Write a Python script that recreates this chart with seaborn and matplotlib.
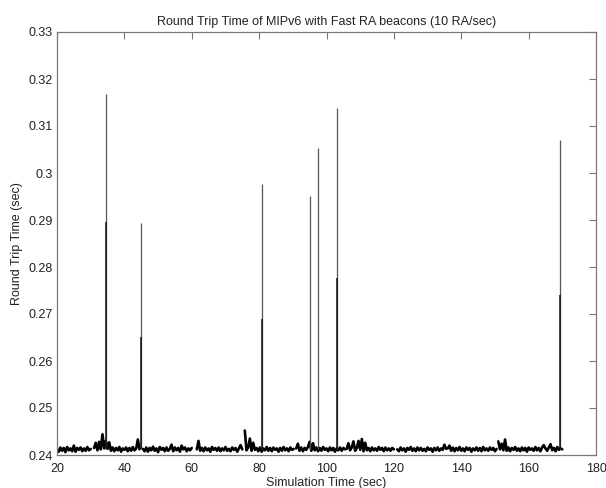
import numpy as np
import pandas as pd
import matplotlib
matplotlib.use("Agg")
import matplotlib.pyplot as plt
import seaborn as sns
from matplotlib.ticker import FuncFormatter

# ---------------- data (RTT in milliseconds, sampled every 0.5 s) ----------------
seg_starts = [20.0, 31.0, 45.5, 61.5, 75.75, 91.0, 106.0, 121.0, 136.0, 151.0]
sample_step = 0.5

seg1 = [241.2, 240.7, 241.6, 240.9, 241.5, 240.6, 241.7, 241.0, 241.4, 240.8, 242.0,
        240.7, 241.5, 241.1, 241.6, 240.8, 241.4, 240.9, 241.7, 241.0, 241.3]
seg2 = [241.5, 242.6, 241.0, 242.8, 241.2, 244.4, 241.4, 243.0, 241.3, 242.7, 240.9,
        241.6, 240.8, 241.5, 241.0, 241.7, 240.7, 241.4, 241.1, 241.6, 240.8, 241.5,
        240.9, 241.7, 241.0, 241.4, 243.3, 241.2]
seg3 = [241.3, 240.8, 241.6, 240.7, 241.5, 241.0, 241.8, 240.9, 241.4, 240.6, 241.7,
        241.1, 241.5, 240.8, 241.6, 240.9, 241.3, 242.2, 240.8, 241.6, 241.0, 241.5,
        240.7, 242.0, 241.2, 241.6, 240.8, 241.4, 241.0, 241.5]
seg4 = [241.2, 243.0, 240.9, 241.5, 240.8, 241.6, 241.0, 241.4, 240.7, 241.7, 241.1,
        241.5, 240.9, 241.6, 240.8, 241.4, 241.0, 241.7, 240.9, 241.3, 240.8, 241.6,
        241.1, 241.5, 240.7, 241.4, 242.1, 241.2]
seg5 = [245.2, 241.0, 241.6, 243.5, 240.9, 242.6, 241.1, 241.5, 240.8, 241.6, 240.7,
        241.4, 241.0, 241.7, 240.9, 241.5, 240.8, 241.6, 241.1, 241.4, 240.7, 241.5,
        240.9, 241.7, 241.0, 241.4, 240.8, 241.6, 241.1, 241.3]
seg6 = [241.4, 242.4, 240.9, 241.6, 240.8, 241.5, 241.1, 241.7, 242.8, 240.9, 242.5,
        241.0, 241.6, 240.8, 241.5, 240.9, 241.7, 241.1, 241.4, 240.8, 241.6, 241.0,
        241.5, 240.7, 241.4, 241.0, 241.6, 240.9, 241.5, 241.2]
seg7 = [241.3, 242.5, 241.0, 241.6, 242.9, 240.9, 241.5, 243.0, 241.1, 243.4, 240.8,
        242.6, 241.0, 241.5, 240.8, 241.6, 241.0, 241.4, 240.9, 241.7, 241.1, 241.5,
        240.8, 241.6, 241.0, 241.4, 240.9, 241.5, 241.2]
seg8 = [241.2, 240.8, 241.6, 241.0, 241.4, 240.7, 241.5, 241.1, 241.7, 240.9, 241.4,
        240.8, 241.6, 241.0, 241.5, 240.9, 241.3, 240.8, 241.6, 241.1, 241.4, 240.7,
        241.5, 241.0, 241.6, 240.9, 241.4, 241.1, 242.2, 241.3]
seg9 = [241.4, 242.0, 240.9, 241.6, 240.8, 241.5, 241.0, 241.7, 240.9, 241.4, 240.8,
        241.6, 241.1, 241.5, 240.7, 241.4, 241.0, 241.6, 240.9, 241.5, 240.8, 241.7,
        241.0, 241.4, 240.9, 241.6, 241.1, 241.5, 240.8, 241.3]
seg10 = [242.9, 241.2, 242.4, 241.0, 243.3, 240.9, 241.6, 240.8, 241.5, 241.1, 241.7,
         240.9, 241.4, 240.8, 241.6, 241.0, 241.5, 240.7, 241.6, 241.1, 241.4, 240.9,
         241.7, 241.0, 241.5, 240.8, 241.6, 242.1, 241.4, 240.9, 241.6, 242.3, 241.0,
         241.5, 240.8, 241.7, 241.1, 241.4, 241.2]
segments = [seg1, seg2, seg3, seg4, seg5, seg6, seg7, seg8, seg9, seg10]

# handoff spikes (seconds): time, peak RTT, secondary RTT (ms)
spike_t = [34.55, 44.85, 80.94, 95.0, 97.47, 103.2, 169.4]
spike_hi = [316.8, 289.4, 297.7, 295.2, 305.3, 313.9, 307.0]
spike_lo = [289.6, 265.2, 268.9, None, None, 277.6, 274.0]
spike_base = 241.2

title = "Round Trip Time of MIPv6 with Fast RA beacons (10 RA/sec)"
xlabel = "Simulation Time (sec)"
ylabel = "Round Trip Time (sec)"
xticks = [20, 40, 60, 80, 100, 120, 140, 160, 180]
yticks = [0.24, 0.25, 0.26, 0.27, 0.28, 0.29, 0.30, 0.31, 0.32, 0.33]

# ---------------- build table ----------------
rows = []
for k, (start, vals) in enumerate(zip(seg_starts, segments)):
    for i, v in enumerate(vals):
        rows.append((k, start + sample_step * i, v / 1000.0))
df = pd.DataFrame(rows, columns=["seg", "t", "rtt"])

sp = pd.DataFrame({"t": spike_t, "hi": np.array(spike_hi) / 1000.0,
                   "lo": np.array([np.nan if v is None else v for v in spike_lo]) / 1000.0})
base = spike_base / 1000.0

# ---------------- plot ----------------
sns.set_style("white")
plt.rcParams["font.family"] = ["Liberation Sans", "DejaVu Sans"]

fig = plt.figure(figsize=(6.06, 4.88), dpi=100)
ax = fig.add_axes([57 / 606, 1 - 455 / 488, 539 / 606, 423 / 488])

sns.lineplot(data=df, x="t", y="rtt", units="seg", estimator=None, sort=True,
             color="black", linewidth=1.9, ax=ax, legend=False)

# handoff spikes: thin full-height line, darker overlay for the secondary sample
ax.vlines(sp["t"], base, sp["hi"], color="#555555", linewidth=0.9)
lo_sp = sp.dropna()
ax.vlines(lo_sp["t"], base, lo_sp["lo"], color="#111111", linewidth=1.1)

ax.set_xlim(20, 180)
ax.set_ylim(0.24, 0.33)
ax.set_xticks(xticks)
ax.set_yticks(yticks)
ax.yaxis.set_major_formatter(FuncFormatter(lambda v, p: f"{v:g}"))

for s in ax.spines.values():
    s.set_visible(True)
    s.set_color("#7a7a7a")
    s.set_linewidth(0.9)
ax.tick_params(direction="in", top=True, right=True, length=5, width=0.8,
               color="#7a7a7a", labelsize=9, labelcolor="#222222")
ax.tick_params(axis="x", pad=6)
ax.tick_params(axis="y", pad=3)

ax.set_title(title, fontsize=9, color="#222222", pad=5)
ax.set_xlabel(xlabel, fontsize=9, color="#222222", labelpad=1)
ax.set_ylabel(ylabel, fontsize=9, color="#222222", labelpad=4)

fig.savefig("out.png", dpi=100, facecolor="white")
